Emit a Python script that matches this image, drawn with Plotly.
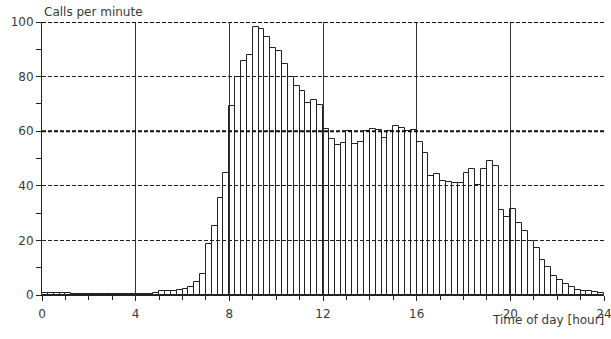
import numpy as np
import plotly.graph_objects as go

# Calls per minute, one value per 15-minute interval (0:00 .. 24:00)
BIN_HOURS = 0.25
calls_per_minute = [
    0.9, 0.9, 0.8, 0.6,      # 0-1 h
    0.6, 0.4, 0.3, 0.3,      # 1-2 h
    0.3, 0.3, 0.3, 0.3,      # 2-3 h
    0.3, 0.3, 0.3, 0.3,      # 3-4 h
    0.3, 0.3, 0.4, 0.8,      # 4-5 h
    1.3, 1.3, 1.3, 1.7,      # 5-6 h
    2.2, 3.0, 4.7, 7.8,      # 6-7 h
    18.6, 25.2, 35.4, 44.8,  # 7-8 h
    69.4, 80.0, 85.8, 88.0,  # 8-9 h
    98.0, 97.5, 94.5, 90.3,  # 9-10 h
    89.5, 84.8, 80.0, 76.5,  # 10-11 h
    74.8, 70.3, 71.6, 69.5,  # 11-12 h
    60.8, 57.2, 54.9, 55.5,  # 12-13 h
    60.0, 55.4, 56.0, 60.0,  # 13-14 h
    60.8, 60.4, 57.6, 60.0,  # 14-15 h
    62.0, 61.3, 60.0, 60.6,  # 15-16 h
    55.9, 51.9, 43.6, 44.4,  # 16-17 h
    41.9, 41.5, 41.1, 41.0,  # 17-18 h
    44.8, 46.3, 40.4, 46.2,  # 18-19 h
    49.2, 47.1, 31.1, 28.4,  # 19-20 h
    31.6, 26.3, 23.4, 19.7,  # 20-21 h
    17.4, 12.7, 10.4, 7.1,   # 21-22 h
    5.5, 4.0, 2.9, 2.0,      # 22-23 h
    1.6, 1.4, 1.1, 0.7,      # 23-24 h
]
x_ticks = [0, 4, 8, 12, 16, 20, 24]
y_ticks = [0, 20, 40, 60, 80, 100]
emphasised_y = [60, 100]

x_centers = np.arange(len(calls_per_minute)) * BIN_HOURS + BIN_HOURS / 2

FONT = "DejaVu Sans"
INK = "#222222"
TXT = "#3a3a3a"

fig = go.Figure()
fig.add_trace(go.Bar(
    x=x_centers,
    y=calls_per_minute,
    width=BIN_HOURS,
    marker=dict(color="rgba(255,255,255,0)", line=dict(color=INK, width=1)),
    showlegend=False,
    hoverinfo="x+y",
))

# emphasised dashed gridlines (60 and 100)
for yv in emphasised_y:
    fig.add_shape(type="line", xref="paper", x0=0, x1=1, yref="y", y0=yv, y1=yv,
                  line=dict(color="#111111", width=2, dash="4px,2px"), layer="above")

fig.update_layout(
    width=611, height=339,
    margin=dict(l=42, r=7, t=22, b=44, autoexpand=False),
    paper_bgcolor="white", plot_bgcolor="white",
    bargap=0,
    font=dict(family=FONT, size=12, color=TXT),
    xaxis=dict(
        range=[0, 24], tickvals=x_ticks, ticktext=[str(v) for v in x_ticks],
        showgrid=True, gridcolor="#333333", gridwidth=1,
        showline=True, linecolor=INK, linewidth=1,
        ticks="outside", ticklen=5, tickcolor=INK,
        minor=dict(dtick=1, tick0=0, ticks="outside", ticklen=4, tickcolor=INK, showgrid=False),
        zeroline=False, automargin=False, ticklabeloverflow="allow",
        ticklabelstandoff=3,
        tickfont=dict(family=FONT, size=12, color=TXT),
    ),
    yaxis=dict(
        range=[0, 100], tickvals=y_ticks, ticktext=[str(v) for v in y_ticks],
        showgrid=True, gridcolor="#222222", gridwidth=1, griddash="4px,2px",
        showline=True, linecolor=INK, linewidth=1,
        ticks="outside", ticklen=5, tickcolor=INK,
        minor=dict(dtick=10, tick0=0, ticks="outside", ticklen=5, tickcolor=INK, showgrid=False),
        zeroline=False, automargin=False, ticklabeloverflow="allow",
        tickfont=dict(family=FONT, size=12, color=TXT),
        layer="above traces",
    ),
    annotations=[
        dict(text="Calls per minute", xref="paper", yref="paper", x=0, y=1,
             xanchor="left", yanchor="bottom", showarrow=False, yshift=1,
             font=dict(family=FONT, size=12, color=TXT)),
        dict(text="Time of day [hour]", xref="paper", yref="paper", x=1, y=0,
             xanchor="right", yanchor="top", showarrow=False, yshift=-16, xshift=2,
             font=dict(family=FONT, size=12, color=TXT)),
    ],
)

fig.write_html("out.html", config={"displayModeBar": False},
               post_script="document.body.style.margin='0';document.body.style.overflow='hidden';")
